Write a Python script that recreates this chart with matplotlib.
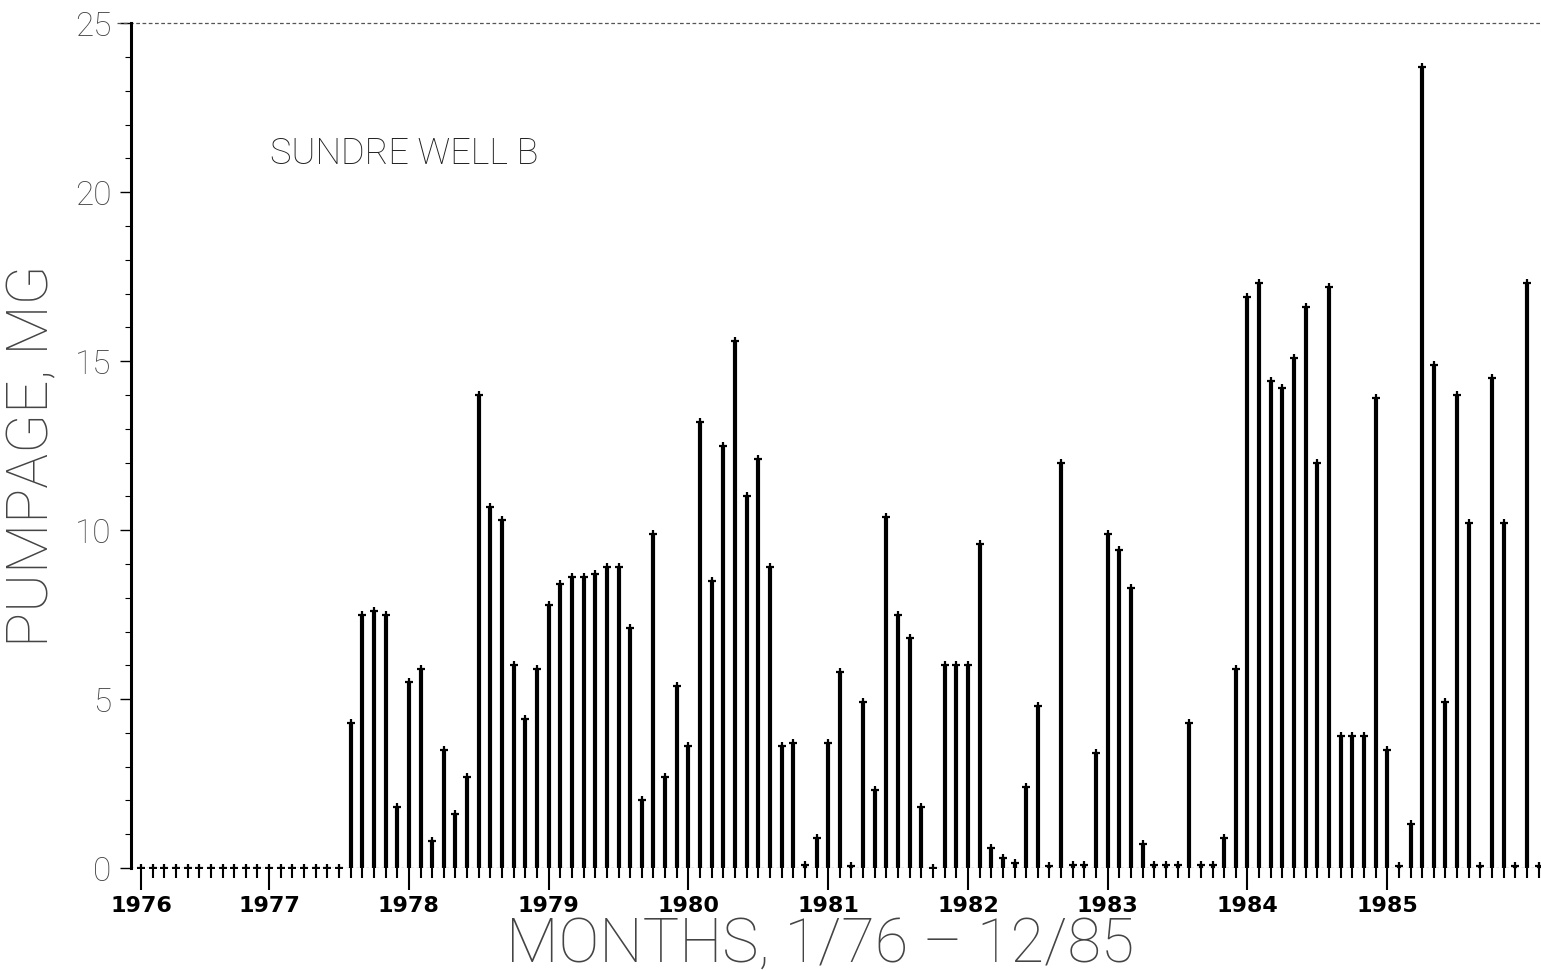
import numpy as np
import matplotlib
matplotlib.use("Agg")
import matplotlib.pyplot as plt
from matplotlib.ticker import FixedLocator, MultipleLocator

# ------------------------------------------------------------------
# data: monthly pumpage (MG)
# ------------------------------------------------------------------
pumpage = [
    0, 0, 0, 0, 0, 0, 0, 0, 0, 0, 0, 0,
    0, 0, 0, 0, 0, 0, 4.3, 7.5, 7.6, 7.5, 1.8, 5.5,
    5.9, 0.8, 3.5, 1.6, 2.7, 14.0, 10.7, 10.3, 6.0, 4.4, 5.9, 7.8,
    8.4, 8.6, 8.6, 8.7, 8.9, 8.9, 7.1, 2.0, 9.9, 2.7, 5.4, 3.6,
    13.2, 8.5, 12.5, 15.6, 11.0, 12.1, 8.9, 3.6, 3.7, 0.1, 0.9, 3.7,
    5.8, 0.05, 4.9, 2.3, 10.4, 7.5, 6.8, 1.8, 0, 6.0, 6.0, 6.0,
    9.6, 0.6, 0.3, 0.15, 2.4, 4.8, 0.05, 12.0, 0.1, 0.1, 3.4, 9.9,
    9.4, 8.3, 0.7, 0.1, 0.1, 0.1, 4.3, 0.1, 0.1, 0.9, 5.9, 16.9,
    17.3, 14.4, 14.2, 15.1, 16.6, 12.0, 17.2, 3.9, 3.9, 3.9, 13.9, 3.5,
    0.05, 1.3, 23.7, 14.9, 4.9, 14.0, 10.2, 0.05, 14.5, 10.2, 0.05, 17.3,
    0.05,
]
months = np.arange(len(pumpage))
years = [1976, 1977, 1978, 1979, 1980, 1981, 1982, 1983, 1984, 1985]
y_ticks = [0, 5, 10, 15, 20, 25]

thin = dict(family=["Roboto", "DejaVu Sans"], weight="light")

fig = plt.figure(figsize=(15.41, 9.71), dpi=100)
ax = fig.add_axes([0.085, 0.106, 0.915, 0.870])

# stems + little arrow heads
vals = np.array(pumpage, dtype=float)
ax.vlines(months, 0, vals, color="black", lw=3.0)
ax.plot(months, vals, ls="none", marker="+", ms=6, mew=1.6, color="black")

ax.set_xlim(-0.86, 120.2)
ax.set_ylim(0, 25)

# dotted baseline and top line
ax.axhline(0, color="#555555", lw=0.9, ls=(0, (2, 2)))
ax.plot([-2.1, 120.2], [25, 25], color="#555555", lw=0.9, ls=(0, (3, 2)),
        clip_on=False)

for s in ["top", "right", "bottom"]:
    ax.spines[s].set_visible(False)
ax.spines["left"].set_linewidth(2.2)

# y axis
ax.yaxis.set_major_locator(FixedLocator(y_ticks))
ax.yaxis.set_minor_locator(MultipleLocator(1))
ax.tick_params(axis="y", which="major", length=8, width=1.0, pad=6,
               labelsize=24, labelcolor="#444444")
ax.tick_params(axis="y", which="minor", length=4, width=0.8)
for lab in ax.get_yticklabels():
    lab.set_family(thin["family"])
    lab.set_weight("light")

# x axis: a tick each month, long tick at each year mark
year_pos = [max(12 * k - 1, 0) for k in range(len(years))]
ax.xaxis.set_major_locator(FixedLocator(year_pos))
ax.xaxis.set_minor_locator(FixedLocator(months))
ax.set_xticklabels([str(y) for y in years])
ax.tick_params(axis="x", which="major", length=16, width=1.5, pad=4,
               labelsize=16)
ax.tick_params(axis="x", which="minor", length=7, width=1.5)
for lab in ax.get_xticklabels():
    lab.set_weight("heavy")

ax.text(0.0986, 0.845, "SUNDRE WELL B", transform=ax.transAxes,
        ha="left", va="center", fontsize=26, color="#222222", **thin)
fig.text(0.532, 0.027, "MONTHS, 1/76 \u2013 12/85", ha="center",
         va="center", fontsize=44, color="#444444", **thin)
fig.text(0.0214, 0.531, "PUMPAGE, MG", rotation=90, ha="center",
         va="center", fontsize=42, color="#444444", **thin)

fig.savefig("out.png", dpi=100)
